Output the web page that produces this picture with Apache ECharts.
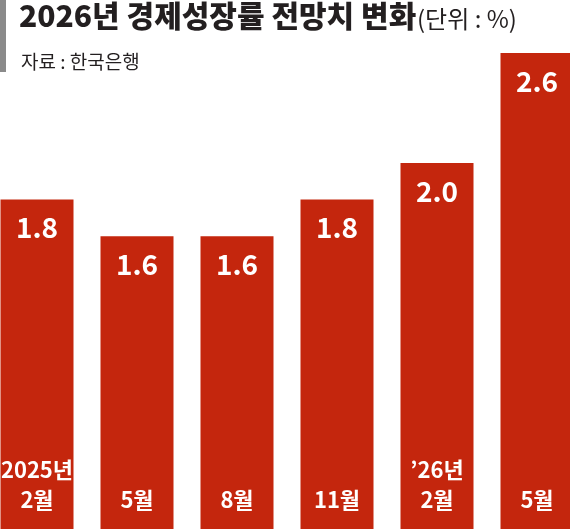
<!DOCTYPE html>
<html><head><meta charset="utf-8">
<script src="https://cdn.jsdelivr.net/npm/echarts@6/dist/echarts.min.js"></script>
<style>html,body{margin:0;padding:0;background:#fff}#c{width:570px;height:529px}</style>
</head><body><div id="c"></div>
<script>
const categories = ['2025년\n2월','5월','8월','11월','’26년\n2월','5월'];
const values = [1.8,1.6,1.6,1.8,2.0,2.6];
const F = '"Noto Sans CJK KR", sans-serif';
const chart = echarts.init(document.getElementById('c'));
chart.setOption({
  animation:false,
  graphic:[{type:'rect',shape:{x:0,y:0,width:6,height:72},style:{fill:'#8a8a8a'}}],
  title:[
    {text:'2026년 경제성장률 전망치 변화',left:14,top:-4,textStyle:{fontFamily:F,fontSize:30,fontWeight:900,color:'#231f20'}},
    {text:'(단위 : %)',left:412,top:2,textStyle:{fontFamily:F,fontSize:24,fontWeight:'normal',color:'#231f20'}},
    {text:'자료 : 한국은행',left:16,top:47,textStyle:{fontFamily:F,fontSize:19,fontWeight:'normal',color:'#231f20'}}
  ],
  grid:{left:-13,right:-17,top:0,bottom:0,outerBoundsMode:'none',containLabel:false},
  xAxis:{type:'category',data:categories,show:false},
  yAxis:{type:'value',min:0,max:2.89,show:false},
  series:[
    {type:'bar',data:values,barWidth:73,itemStyle:{color:'#c4260d'},
     label:{show:true,position:'insideTop',distance:14,color:'#fff',fontFamily:F,fontSize:28,fontWeight:'bold',formatter:p=>p.value.toFixed(1)}},
    {type:'bar',data:values,barWidth:73,barGap:'-100%',itemStyle:{color:'rgba(0,0,0,0)'},
     label:{show:true,position:'insideBottom',distance:14,color:'#fff',fontFamily:F,fontSize:22,fontWeight:'bold',lineHeight:30,formatter:p=>p.name}}
  ]
});
</script></body></html>
